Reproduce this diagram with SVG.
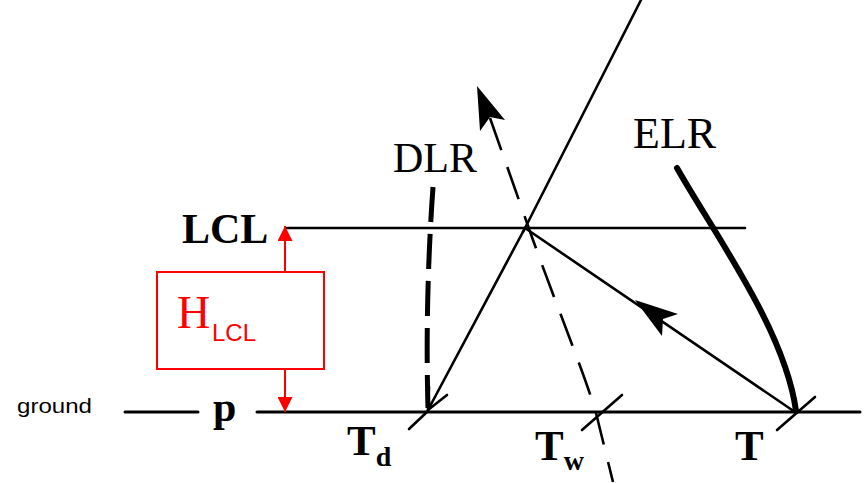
<svg xmlns="http://www.w3.org/2000/svg" width="868" height="483" viewBox="0 0 868 483">
<style>
.ln{stroke:#000;stroke-width:2.6;fill:none;stroke-linecap:round}
.gnd{stroke-width:3}
.dlr{stroke-width:5;stroke-dasharray:35 12;stroke-linecap:butt}
.tw{stroke-width:2.6;stroke-dasharray:34 18;stroke-linecap:butt}
.elr{stroke-width:6}
.lbl{font-family:"Liberation Serif",serif;fill:#000}
.b{font-weight:bold}
.red{stroke:#ff0000;fill:none;stroke-width:2}
</style>
<defs>
<marker id="redhead" viewBox="0 0 10 10" refX="10" refY="5" markerWidth="15" markerHeight="15" markerUnits="userSpaceOnUse" orient="auto">
<path d="M0,0 L10,5 L0,10 Z" fill="#ff0000"/>
</marker>
</defs>
<rect width="868" height="483" fill="#fff"/>
<g id="connectors">
<line class="ln gnd" x1="125" y1="412" x2="198" y2="412"/>
<line class="ln gnd" x1="257" y1="412" x2="860" y2="412"/>
<line class="ln" x1="287" y1="228" x2="745" y2="228"/>
<line class="ln" x1="523" y1="232" x2="641" y2="0"/>
<line class="ln" x1="525" y1="228" x2="428" y2="410"/>
<polyline class="ln" points="447,395 428,410 429,387"/>
<line class="ln" x1="409" y1="429" x2="428" y2="411"/>
<path class="ln dlr" d="M433,187 Q425,300 428,408"/>
<path class="ln tw" d="M490,118 L533,240 C560,315 585,375 596,413 L613,482"/>
<polygon points="477,86 505,120 490,117 480,131" fill="#000"/>
<line class="ln" x1="582" y1="430" x2="622" y2="395"/>
<line class="ln" x1="795" y1="412" x2="525" y2="228"/>
<polygon points="635,300 678,314 663,319 662,336" fill="#000"/>
<line class="ln" x1="777" y1="430" x2="815" y2="397"/>
<path class="ln elr" d="M677,168 C715,235 785,330 796,411"/>
<line class="red" x1="285" y1="272" x2="285" y2="226" marker-end="url(#redhead)"/>
<line class="red" x1="285" y1="369" x2="285" y2="412" marker-end="url(#redhead)"/>
</g>
<g id="node-ground">
<text x="17" y="413" font-family="'Liberation Sans',Arial,sans-serif" font-size="21" textLength="75" lengthAdjust="spacingAndGlyphs">ground</text>
</g>
<g id="node-LCL">
<text class="lbl b" x="182" y="243" font-size="42">LCL</text>
</g>
<g id="node-p">
<text class="lbl b" x="213" y="421" font-size="42">p</text>
</g>
<g id="node-HLCL">
<rect class="red" x="157" y="272" width="167" height="97"/>
<text x="177" y="328" font-family="'Liberation Serif',serif" font-size="46" fill="#ff0000">H</text>
<text x="212" y="341" font-family="'Liberation Sans',Arial,sans-serif" font-size="24" fill="#ff0000">LCL</text>
</g>
<g id="node-DLR">
<text class="lbl" x="393" y="172" font-size="42">DLR</text>
</g>
<g id="node-ELR">
<text class="lbl" x="633" y="148" font-size="44">ELR</text>
</g>
<g id="node-Td">
<text class="lbl b" x="347" y="455" font-size="43">T<tspan font-size="28" dy="11">d</tspan></text>
</g>
<g id="node-Tw">
<text class="lbl b" x="535" y="460" font-size="43">T<tspan font-size="28" dy="10">w</tspan></text>
</g>
<g id="node-T">
<text class="lbl b" x="735" y="460" font-size="43">T</text>
</g>
</svg>
